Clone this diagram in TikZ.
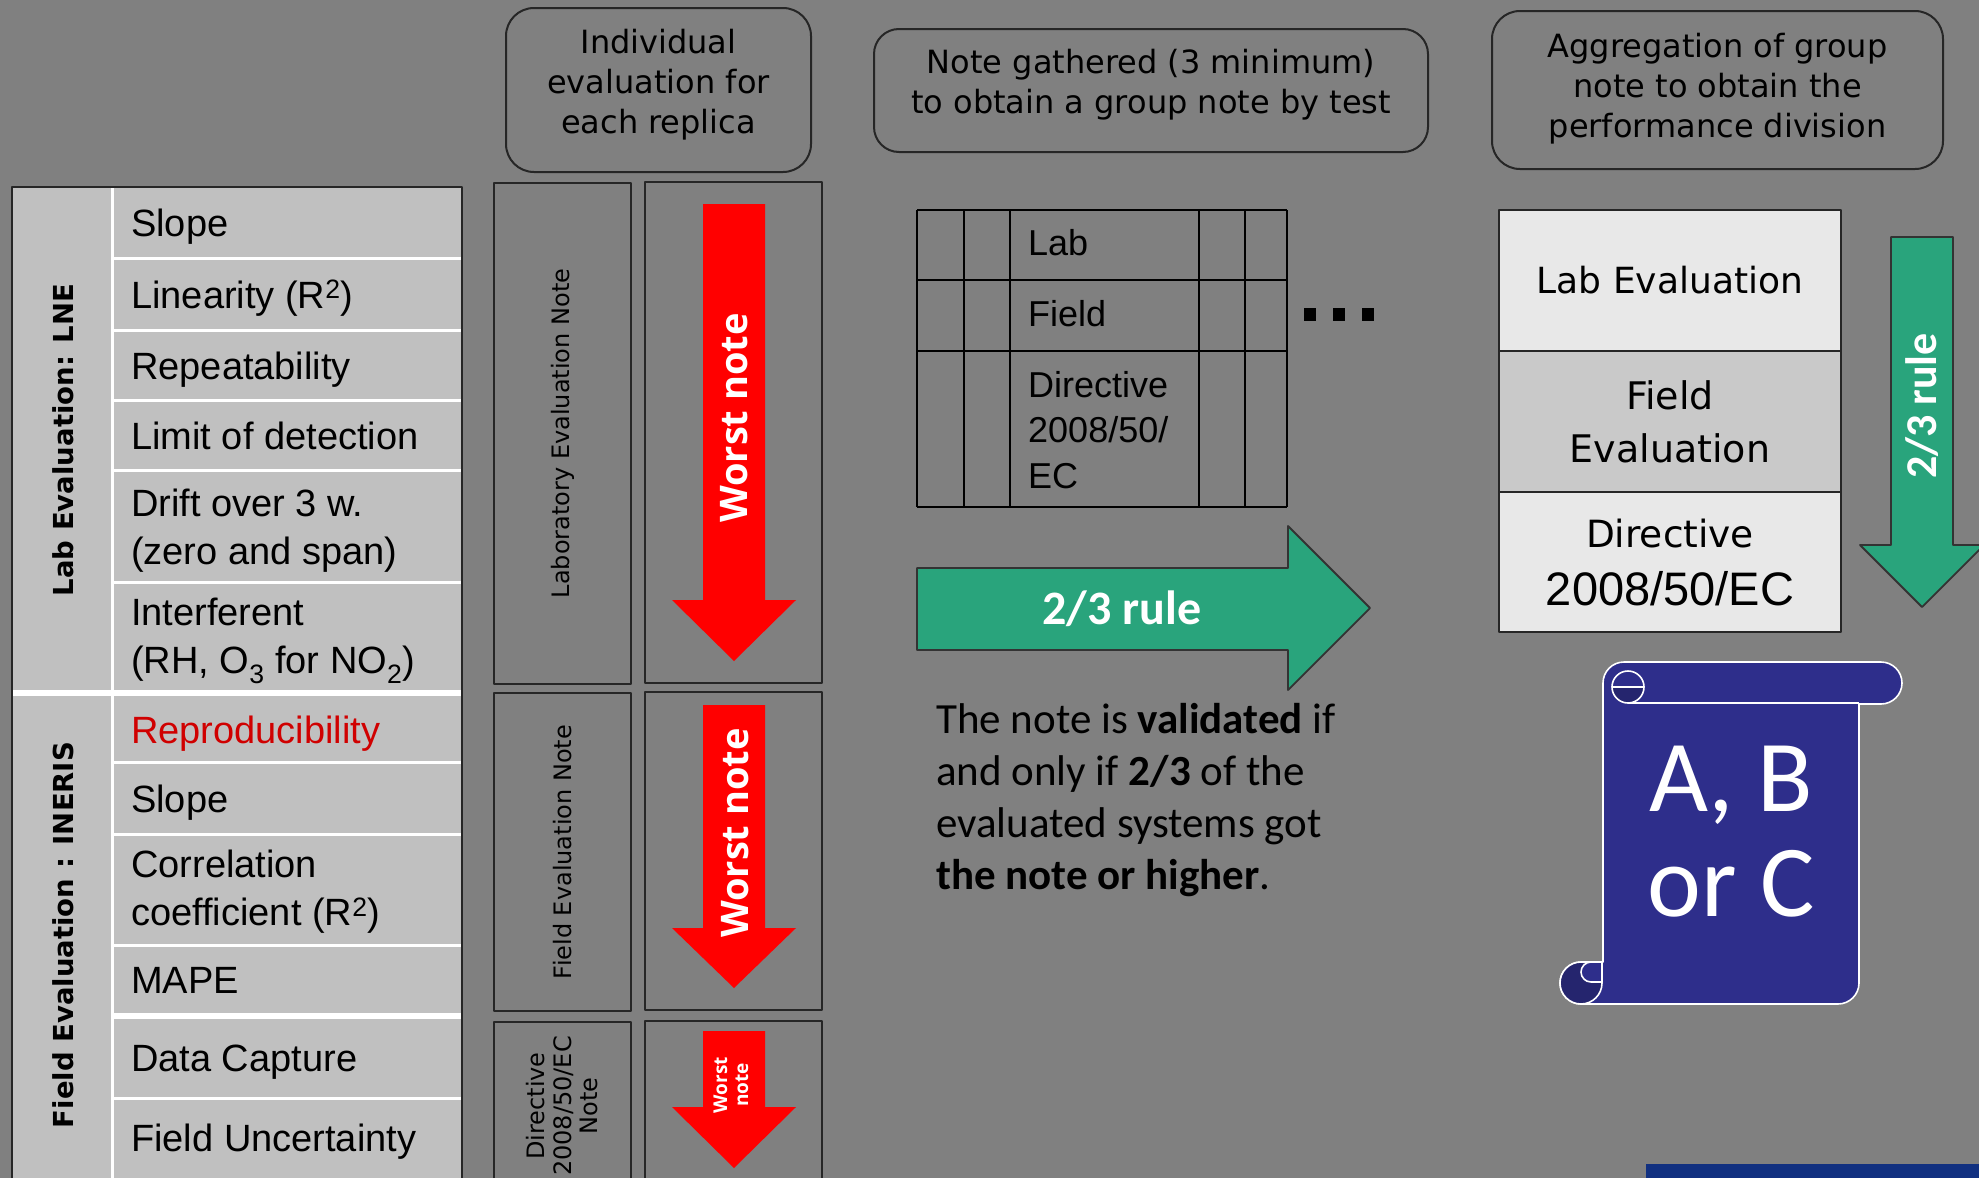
\documentclass[tikz,border=0pt]{standalone}
\usepackage{fontspec}
\setmainfont{Liberation Sans}
\newfontfamily\verdfont{DejaVu Sans}
\newfontfamily\calfont{Carlito}
\newfontfamily\opfont{Open Sans}
\usetikzlibrary{arrows.meta}
\newcommand{\fsz}[2]{\fontsize{#1}{#2}\selectfont}
\definecolor{slide}{HTML}{808080}
\definecolor{cell}{HTML}{C0C0C0}
\definecolor{repro}{HTML}{D00000}
\definecolor{arrgreen}{HTML}{29A47C}
\definecolor{rowlight}{HTML}{E8E8E8}
\definecolor{rowmid}{HTML}{C9C9C9}
\definecolor{scrollblue}{HTML}{2E2E8B}
\definecolor{scrolldark}{HTML}{25256E}
\definecolor{barblue}{HTML}{113080}
\tikzset{
  every picture/.style={line join=round},
  boxline/.style={draw=black!85,line width=2pt},
  headbox/.style={boxline,rounded corners=28pt,align=center,inner sep=0pt,font=\verdfont\fsz{32}{40}},
  rowsep/.style={white,line width=3pt},
  groupsep/.style={white,line width=6.5pt},
  item/.style={anchor=base west,inner sep=0pt,font=\fsz{38}{48}},
  item2/.style={anchor=west,align=left,inner sep=0pt,font=\fsz{38}{48}},
  sidelabel/.style={rotate=90,inner sep=0pt,font=\verdfont\bfseries\fsz{27.5}{33}},
  notebox/.style={boxline,rotate=90,align=center,inner sep=0pt,font=\verdfont\fsz{24}{26.5}},
  worst/.style={rotate=90,inner sep=0pt,align=center,text=white,font=\opfont\bfseries\fsz{38}{42}},
  gridline/.style={black,line width=2pt},
  gridtext/.style={anchor=base west,inner sep=0pt,font=\fsz{36}{45.5}},
  greenarrow/.style={fill=arrgreen,draw=black!80,line width=1.8pt},
  rulelabel/.style={text=white,inner sep=0pt,font=\calfont\bfseries\fsz{48}{56}},
  evalrow/.style={boxline,line width=2.4pt,minimum width=342pt,minimum height=141pt,align=center,inner sep=0pt,font=\verdfont\fsz{36}{53}},
  scrollbody/.style={fill=scrollblue,draw=white,line width=1.6pt},
}
\begin{document}
\begin{tikzpicture}[x=1pt,y=-1pt]
\fill[slide] (0,0) rectangle (1979,1178);
\useasboundingbox (0,0) rectangle (1979,1178);

\fill[cell] (12,187) rectangle (462,1190);
\draw[rowsep] (112,187) -- (112,1190);
\foreach \y in {258,330,400,470,582,762,834,945,1098}
  \draw[rowsep] (112,\y) -- (462,\y);
\draw[groupsep] (12,693) -- (462,693);
\draw[groupsep] (112,1016) -- (462,1016);
\draw[boxline] (12,1190) -- (12,187) -- (462,187) -- (462,1190);
\node[sidelabel] (lne) at (63,440) {Lab Evaluation: LNE};
\node[sidelabel] (ineris) at (63,935) {Field Evaluation : INERIS};
\node[item] (slope) at (131,236) {Slope};
\node[item] (linear) at (131,308) {Linearity (R\textsuperscript{2})};
\node[item] (repeat) at (131,379) {Repeatability};
\node[item] (lod) at (131,449) {Limit of detection};
\node[item2] (drift) at (131,531) {Drift over 3 w.\\(zero and span)};
\node[item2] (interf) at (131,641) {Interferent\\(RH, O\textsubscript{3} for NO\textsubscript{2})};
\node[item,text=repro] (reprod) at (131,743) {Reproducibility};
\node[item] (slopef) at (131,812) {Slope};
\node[item2] (correl) at (131,892) {Correlation\\coefficient (R\textsuperscript{2})};
\node[item] (mape) at (131,993) {MAPE};
\node[item] (capture) at (131,1071) {Data Capture};
\node[item] (uncert) at (131,1151) {Field Uncertainty};

\node[headbox,minimum width=305pt,minimum height=164pt,text depth=17.5pt] (indiv) at (658.5,90) {Individual\\evaluation for\\each replica};
\node[headbox,rounded corners=25pt,minimum width=554pt,minimum height=123pt,text depth=19pt] (gather) at (1151,90.5) {Note gathered (3 minimum)\\to obtain a group note by test};
\node[headbox,minimum width=451pt,minimum height=158pt,text depth=9.5pt] (aggreg) at (1717.5,90) {Aggregation of group\\note to obtain the\\performance division};

\node[notebox,minimum width=501pt,minimum height=137pt] (labnote) at (562.5,433.5) {Laboratory Evaluation Note};
\node[notebox,minimum width=318pt,minimum height=137pt] (fieldnote) at (562.5,852) {Field Evaluation Note};
\node[notebox,minimum width=168pt,minimum height=137pt] (dirnote) at (562.5,1106) {Directive\\2008/50/EC\\Note};
\draw[boxline] (645,182) rectangle (822,683);
\draw[boxline] (645,692) rectangle (822,1010);
\draw[boxline] (645,1021) rectangle (822,1190);
\foreach \t/\h/\e in {204/600/661,705/928/988,1031/1107/1168}
  \fill[red] (703,\t) -- (765,\t) -- (765,\h) -- (796,\h) -- (734,\e) -- (672,\h) -- (703,\h) -- cycle;
\node[worst] (worst1) at (734,418) {Worst note};
\node[worst] (worst2) at (735,833) {Worst note};
\node[worst,font=\opfont\bfseries\fsz{19}{21}] (worst3) at (731,1085) {Worst\\note};

\foreach \x in {917,963.5,1009.5,1199,1245,1286.5}
  \draw[gridline] (\x,210) -- (\x,507);
\foreach \y in {210,280,351,507}
  \draw[gridline] (917,\y) -- (1286.5,\y);
\node[gridtext] (glab) at (1028,255) {Lab};
\node[gridtext] (gfield) at (1028,326) {Field};
\node[gridtext,anchor=west,align=left] (gdir) at (1028,430) {Directive\\2008/50/\\EC};
\foreach \x in {1310,1339,1368}
  \fill (\x-6,307.5) rectangle (\x+6,320.5);
\draw[greenarrow] (917,568) -- (1288,568) -- (1288,526) -- (1370,608) -- (1288,690) -- (1288,650) -- (917,650) -- cycle;
\node[rulelabel] (rule) at (1122,609) {2/3 rule};
\node[anchor=west,align=left,inner sep=0pt,font=\calfont\fsz{43}{52.2}] (valid) at (936,800) {The note is \textbf{validated} if\\and only if \textbf{2/3} of the\\evaluated systems got\\\textbf{the note or higher}.};

\node[evalrow,fill=rowlight] (labeval) at (1670,280.5) {Lab Evaluation};
\node[evalrow,fill=rowmid,font=\verdfont\fsz{38}{53}] (fieldeval) at (1670,421.5) {Field\\Evaluation};
\node[evalrow,fill=rowlight,minimum height=140pt,font=\verdfont\fsz{37.5}{58}] (direval) at (1670,562) {Directive\\{\rmfamily\fsz{47}{58}2008/50/EC}};
\draw[greenarrow] (1891,237) -- (1953,237) -- (1953,545) -- (1984,545) -- (1922,607) -- (1860,545) -- (1891,545) -- cycle;
\node[rulelabel,rotate=90,font=\calfont\bfseries\fsz{44}{50}] (vrule) at (1922,406) {2/3 rule};

\draw[scrollbody] (1581,1004) arc[start angle=90,end angle=270,radius=21] -- (1603,962) -- (1603,683) arc[start angle=180,end angle=270,radius=21] -- (1881,662) arc[start angle=-90,end angle=90,radius=21] -- (1859,704) -- (1859,983) arc[start angle=0,end angle=90,radius=21] -- cycle;
\draw[scrollbody,fill=scrolldark] (1612,687) arc[start angle=180,end angle=0,radius=16] -- cycle;
\draw[white,line width=1.6pt] (1612,687) arc[start angle=180,end angle=360,radius=16];
\draw[white,line width=1.6pt] (1628,703) -- (1859,703);
\draw[scrollbody,fill=scrolldark] (1581,983) circle[radius=21];
\draw[scrollbody] (1602,962) -- (1602,982) -- (1591,982) arc[start angle=90,end angle=270,radius=10] -- cycle;
\node[align=center,inner sep=0pt,text=white,font=\calfont\fsz{102}{105}] (grade) at (1731,832) {A, B\\or C};
\fill[barblue] (1646,1164) rectangle (1979,1178);
\end{tikzpicture}
\end{document}
